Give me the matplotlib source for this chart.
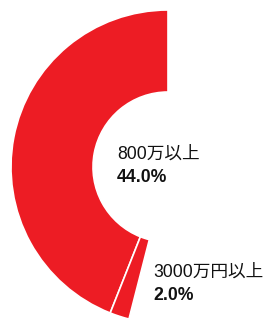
import matplotlib
matplotlib.use("Agg")
import matplotlib.pyplot as plt

# データ
labels = ["800万以上", "3000万円以上", "その他"]
shares = [44.0, 2.0, 54.0]
colors = ["#ED1C24", "#ED1C24", "none"]

plt.rcParams["font.family"] = ["Liberation Sans", "Noto Sans CJK JP", "DejaVu Sans"]

W, H = 269, 319
fig = plt.figure(figsize=(W / 100, H / 100), dpi=100)

# ドーナツの中心 (168, 167) px, 半径 157 px
cx, cy, R = 168, 167, 157
ax = fig.add_axes([(cx - R) / W, (H - cy - R) / H, 2 * R / W, 2 * R / H])
wedges, _ = ax.pie(shares, colors=colors, startangle=90, counterclock=True,
                   radius=1.0,
                   wedgeprops=dict(width=1 - 75 / 157, edgecolor="white", linewidth=1.2))
wedges[2].set_edgecolor("none")
ax.set_xlim(-1, 1)
ax.set_ylim(-1, 1)
ax.set_aspect("equal")
ax.axis("off")

# ラベル（ベースライン位置で配置）
def label(x, y, name, val):
    fig.text(x / W, 1 - y / H, name, fontsize=12.7, va="baseline", ha="left", color="#111111")
    fig.text(x / W, 1 - (y + 22.5) / H, f"{val:.1f}%", fontsize=12.7, fontweight="bold",
             va="baseline", ha="left", color="#111111")

label(117, 159, labels[0], shares[0])
label(153, 277, labels[1], shares[1])

fig.savefig("out.png", dpi=100)
